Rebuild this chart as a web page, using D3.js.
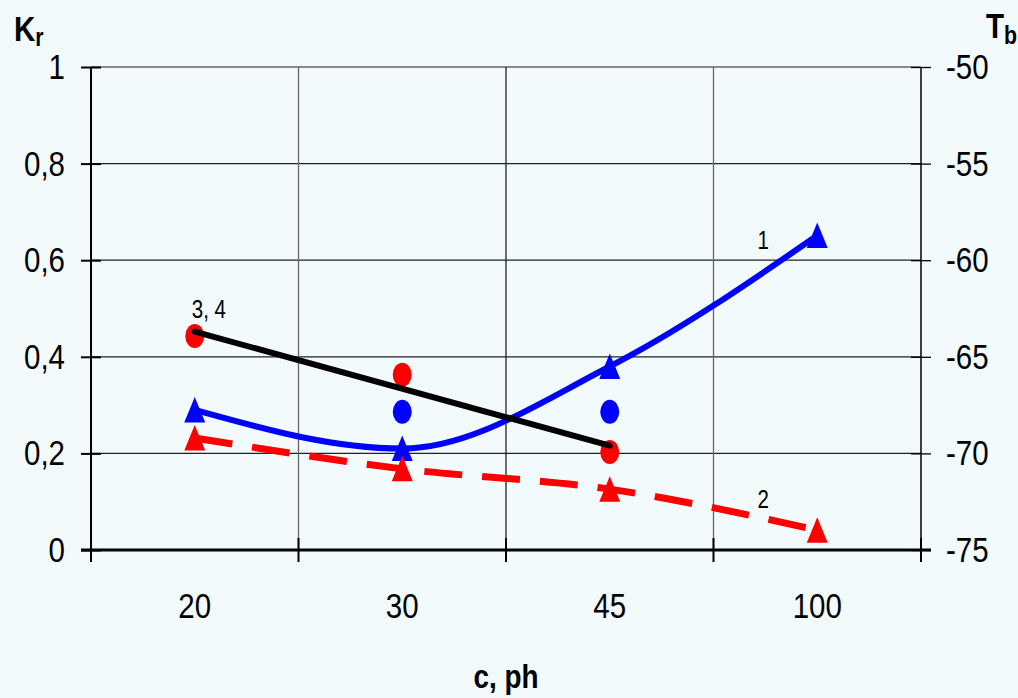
<!DOCTYPE html>
<html>
<head>
<meta charset="utf-8">
<script src="https://cdn.jsdelivr.net/npm/d3@7"></script>
<style>
  html, body { margin: 0; padding: 0; background: #F2FAFC; }
  svg { display: block; font-family: "Liberation Sans", Arial, sans-serif; }
</style>
</head>
<body>
<svg id="chart"></svg>
<script>
// categories on the x axis (c, ph)
const categories = ["20", "30", "45", "100"];
// curve 1 (blue, solid, triangles)
const curve1 = [0.29, 0.21, 0.38, 0.651];
// curve 2 (red, dashed, triangles)
const curve2 = [0.232, 0.168, 0.126, 0.041];
// points 3 (red) and 4 (blue)
const points3 = [{c: "20", v: 0.443}, {c: "30", v: 0.363}, {c: "45", v: 0.203}];
const points4 = [{c: "30", v: 0.286}, {c: "45", v: 0.286}];
// black trend line for 3, 4
const trend34 = [{c: "20", v: 0.452}, {c: "45", v: 0.216}];
const leftTicks = [0, 0.2, 0.4, 0.6, 0.8, 1];
const rightTicks = [-75, -70, -65, -60, -55, -50];

const width = 1018, height = 698;
const margin = {top: 67, right: 97, bottom: 148, left: 91};
const narrowK = 0.82; // no Arial Narrow installed, squeeze Liberation Sans instead

// squeeze a text horizontally around its own anchor point
function narrow(sel) {
    sel.each(function () {
        const t = d3.select(this);
        const xx = +(t.attr('x') || 0);
        t.attr('x', xx / narrowK)
            .attr('transform', `scale(${narrowK},1)`);
    });
}

const svg = d3.select('#chart')
    .attr('width', width)
    .attr('height', height);

svg.append('rect')
    .attr('width', width)
    .attr('height', height)
    .attr('fill', '#F2FAFC');

const x = d3.scaleBand()
    .domain(categories)
    .range([margin.left, width - margin.right]);

const y = d3.scaleLinear()
    .domain([0, 1])
    .range([height - margin.bottom, margin.top]);

const yRight = d3.scaleLinear()
    .domain([-75, -50])
    .range([height - margin.bottom, margin.top]);

const cx = c => x(c) + x.bandwidth() / 2;
const x0 = x.range()[0], x1 = x.range()[1];
const boundaries = categories.map(c => x(c)).concat([x1]);

// gridlines
svg.append('g')
    .selectAll('line')
    .data(leftTicks.filter(d => d > 0))
    .join('line')
    .attr('x1', x0).attr('x2', x1)
    .attr('y1', d => y(d)).attr('y2', d => y(d))
    .attr('stroke', d => d === 1 ? '#888' : '#222')
    .attr('stroke-width', d => d === 1 ? 2 : 1.2);

svg.append('g')
    .selectAll('line')
    .data(boundaries.slice(1, -1))
    .join('line')
    .attr('x1', d => d).attr('x2', d => d)
    .attr('y1', y(1)).attr('y2', y(0))
    .attr('stroke', (d, i) => i === 1 ? '#222' : '#666')
    .attr('stroke-width', 1.3);

// left axis
const yAxisG = svg.append('g')
    .attr('transform', `translate(${x0},0)`)
    .call(d3.axisLeft(y)
        .tickValues(leftTicks)
        .tickSize(10)
        .tickPadding(16)
        .tickFormat(d => String(+d.toFixed(1)).replace('.', ',')));
yAxisG.select('.domain').remove();
yAxisG.selectAll('.tick line').attr('x1', -10).attr('x2', 10).attr('stroke', '#000').attr('stroke-width', 2);
yAxisG.selectAll('.tick text').attr('font-size', 36).attr('fill', '#000').attr('font-family', null).call(narrow);
yAxisG.append('line')
    .attr('y1', y(1)).attr('y2', y(0))
    .attr('stroke', '#000').attr('stroke-width', 2);

// right axis
const yRightG = svg.append('g')
    .attr('transform', `translate(${x1},0)`)
    .call(d3.axisRight(yRight)
        .tickValues(rightTicks)
        .tickSize(10)
        .tickPadding(15));
yRightG.select('.domain').remove();
yRightG.selectAll('.tick line').attr('x1', -10).attr('x2', 10).attr('stroke', '#000').attr('stroke-width', 1.3);
yRightG.selectAll('.tick text').attr('font-size', 36).attr('fill', '#000').attr('font-family', null)
    .text(d => String(d)).call(narrow);
yRightG.append('line')
    .attr('y1', yRight(-50)).attr('y2', yRight(-75))
    .attr('stroke', '#000').attr('stroke-width', 1.5);

// bottom axis: labels centred in bands, ticks on band boundaries
const xAxisG = svg.append('g')
    .attr('transform', `translate(0,${y(0)})`)
    .call(d3.axisBottom(x).tickSize(0).tickPadding(42));
xAxisG.select('.domain').remove();
xAxisG.selectAll('.tick text').attr('font-size', 36).attr('fill', '#000').attr('font-family', null).call(narrow);
xAxisG.append('line')
    .attr('x1', x0 - 10).attr('x2', x1 + 10)
    .attr('stroke', '#000').attr('stroke-width', 3);
xAxisG.selectAll('.bound')
    .data(boundaries)
    .join('line')
    .attr('class', 'bound')
    .attr('x1', d => d).attr('x2', d => d)
    .attr('y1', -12).attr('y2', 12)
    .attr('stroke', '#000').attr('stroke-width', 2);

// axis titles
const kr = svg.append('text')
    .attr('x', 14).attr('y', 41)
    .attr('font-size', 36).attr('font-weight', 700);
kr.append('tspan').text('K');
kr.append('tspan').attr('font-size', 26).attr('dy', 5).text('r');
kr.call(narrow);

const tb = svg.append('text')
    .attr('x', 986).attr('y', 38)
    .attr('font-size', 36).attr('font-weight', 700);
tb.append('tspan').text('T');
tb.append('tspan').attr('font-size', 26).attr('dy', 6).text('b');
tb.call(narrow);

svg.append('text')
    .attr('x', (x0 + x1) / 2).attr('y', 688)
    .attr('text-anchor', 'middle')
    .attr('font-size', 34).attr('font-weight', 700)
    .text('c, ph')
    .call(narrow);

// lines
const line = d3.line()
    .x((d, i) => cx(categories[i]))
    .y(d => y(d))
    .curve(d3.curveMonotoneX);

svg.append('path')
    .datum(curve1)
    .attr('d', line)
    .attr('fill', 'none')
    .attr('stroke', '#0000FF')
    .attr('stroke-width', 6)
    .attr('stroke-linejoin', 'round');

svg.append('path')
    .datum(curve2)
    .attr('d', line)
    .attr('fill', 'none')
    .attr('stroke', '#FF0000')
    .attr('stroke-width', 7)
    .attr('stroke-dasharray', '38,20');

// circles 3 and 4
svg.append('g')
    .selectAll('ellipse')
    .data(points4)
    .join('ellipse')
    .attr('cx', d => cx(d.c)).attr('cy', d => y(d.v))
    .attr('rx', 9.5).attr('ry', 12)
    .attr('fill', '#0000FF');

svg.append('g')
    .selectAll('ellipse')
    .data(points3)
    .join('ellipse')
    .attr('cx', d => cx(d.c)).attr('cy', d => y(d.v))
    .attr('rx', 9.5).attr('ry', 12)
    .attr('fill', '#FF0000');

svg.append('path')
    .datum(trend34)
    .attr('d', d3.line().x(d => cx(d.c)).y(d => y(d.v)))
    .attr('fill', 'none')
    .attr('stroke', '#000')
    .attr('stroke-width', 6)
    .attr('stroke-linecap', 'round');

// triangle markers
const tri = 'M0,-13L10.5,12.5L-10.5,12.5Z';
svg.append('g')
    .selectAll('path')
    .data(curve1)
    .join('path')
    .attr('d', tri)
    .attr('transform', (d, i) => `translate(${cx(categories[i])},${y(d)})`)
    .attr('fill', '#0000FF');

svg.append('g')
    .selectAll('path')
    .data(curve2)
    .join('path')
    .attr('d', tri)
    .attr('transform', (d, i) => `translate(${cx(categories[i])},${y(d)})`)
    .attr('fill', '#FF0000');

// curve labels
svg.append('text')
    .attr('x', cx('20') - 3).attr('y', y(trend34[0].v) - 14)
    .attr('font-size', 25)
    .text('3, 4')
    .call(narrow);

svg.append('text')
    .attr('x', cx('100') - 54).attr('y', y(curve1[3]) + 13)
    .attr('text-anchor', 'middle')
    .attr('font-size', 25)
    .text('1')
    .call(narrow);

svg.append('text')
    .attr('x', cx('100') - 54).attr('y', y(curve2[3]) - 22)
    .attr('text-anchor', 'middle')
    .attr('font-size', 25)
    .text('2')
    .call(narrow);
</script>
</body>
</html>
